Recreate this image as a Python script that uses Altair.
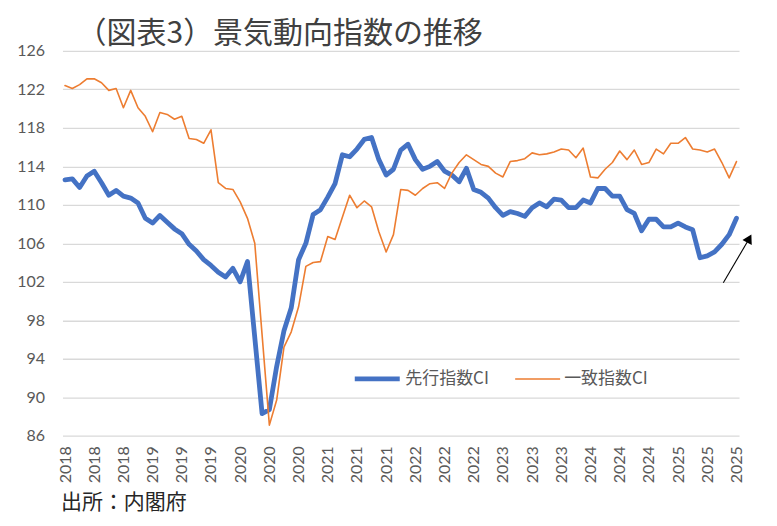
import json
import altair as alt
import pandas as pd

# monthly values, Jan 2018 .. Sep 2025
leading = [
    112.6, 112.7, 111.8, 113.0, 113.5, 112.3, 111.0, 111.5, 110.9, 110.7, 110.2, 108.6,
    108.1, 108.9, 108.2, 107.5, 107.0, 105.9, 105.2, 104.3, 103.7, 103.0, 102.5, 103.4,
    102.0, 104.1, 96.2, 88.3, 88.7, 93.2, 96.9, 99.3, 104.3, 106.0, 109.0, 109.5,
    110.8, 112.2, 115.2, 115.0, 115.8, 116.8, 117.0, 114.7, 113.1, 113.7, 115.7, 116.3,
    114.7, 113.7, 114.0, 114.5, 113.5, 113.1, 112.4, 113.8, 111.6, 111.3, 110.7, 109.7,
    108.9, 109.3, 109.1, 108.8, 109.7, 110.2, 109.8, 110.6, 110.5, 109.7, 109.7, 110.5,
    110.2, 111.7, 111.7, 110.9, 110.9, 109.5, 109.1, 107.3, 108.5, 108.5, 107.7, 107.7,
    108.1, 107.7, 107.4, 104.5, 104.7, 105.1, 105.9, 106.9, 108.6,
]
coincident = [
    122.4, 122.1, 122.5, 123.1, 123.1, 122.7, 121.9, 122.1, 120.1, 121.9, 120.1, 119.2,
    117.6, 119.6, 119.4, 118.9, 119.2, 116.9, 116.8, 116.4, 117.8, 112.3, 111.7, 111.6,
    110.3, 108.6, 106.0, 96.5, 87.1, 89.7, 95.2, 96.8, 99.4, 103.6, 104.0, 104.1,
    106.7, 106.4, 108.7, 111.0, 109.7, 110.4, 109.8, 107.2, 105.1, 106.9, 111.6, 111.5,
    111.0, 111.7, 112.2, 112.3, 111.7, 113.3, 114.4, 115.2, 114.7, 114.2, 114.0, 113.3,
    112.9, 114.5, 114.6, 114.8, 115.4, 115.2, 115.3, 115.5, 115.8, 115.7, 114.9, 115.9,
    112.9, 112.8, 113.7, 114.4, 115.6, 114.7, 115.7, 114.2, 114.4, 115.8, 115.3, 116.4,
    116.4, 117.0, 115.8, 115.7, 115.5, 115.8, 114.4, 112.8, 114.5,
]
series_names = ["先行指数CI", "一致指数CI"]
series_colors = ["#4472C4", "#ED7D31"]
tick_labels = [
    "2018", "2018", "2018", "2019", "2019", "2019", "2020", "2020",
    "2020", "2021", "2021", "2021", "2022", "2022", "2022", "2023",
    "2023", "2023", "2024", "2024", "2024", "2025", "2025", "2025",
]
y_ticks = [86, 90, 94, 98, 102, 106, 110, 114, 118, 122, 126]

# arrow annotation (month index, index value)
arrow_line = {"t": [90.2, 93.6], "v": [101.9, 106.3]}
arrow_head = {"t": [93.75], "v": [106.5]}

JP = "Noto Sans CJK JP"
NUM = "Lato"

months = list(range(len(leading)))
df = pd.concat([
    pd.DataFrame({"t": months, "value": leading, "series": series_names[0]}),
    pd.DataFrame({"t": months, "value": coincident, "series": series_names[1]}),
])

x_scale = alt.Scale(domain=[-0.35, 92.35], nice=False, zero=False)
y_scale = alt.Scale(domain=[86, 126], nice=False, zero=False)

legend = alt.Legend(
    title=None, orient="none", legendX=290, legendY=303, direction="horizontal",
    symbolType="stroke", symbolSize=2025, labelFont=JP, labelFontSize=17,
    labelColor="#595959", labelOffset=3, columnPadding=22, padding=0,
)

base = alt.Chart(df).mark_line(strokeJoin="round", strokeCap="round").encode(
    x=alt.X("t:Q", scale=x_scale, axis=alt.Axis(
        values=list(range(0, 93, 4)), tickCount=40,
        labelExpr=json.dumps(tick_labels) + "[datum.value / 4]",
        labelAngle=270, labelFont=NUM, labelFontSize=16, labelColor="#595959",
        labelPadding=10, labelOverlap=False, grid=False, domain=False, ticks=False,
        title="出所：内閣府", titleFont=JP, titleFontSize=21, titleFontWeight="normal",
        titleColor="#262626", titleX=-2, titleY=67, titleAlign="left",
        titleBaseline="middle")),
    y=alt.Y("value:Q", scale=y_scale, axis=alt.Axis(
        values=y_ticks, tickCount=20, labelFont=NUM, labelFontSize=16, labelColor="#595959",
        labelPadding=18, labelOverlap=False, domain=False, ticks=False, gridColor="#D9D9D9",
        gridWidth=1.3, title=None)),
    color=alt.Color("series:N", scale=alt.Scale(domain=series_names, range=series_colors),
                    legend=legend, sort=series_names),
    strokeWidth=alt.StrokeWidth("series:N", scale=alt.Scale(domain=series_names, range=[4.8, 1.6]),
                                legend=legend, sort=series_names),
)

blue = base.transform_filter(alt.datum.series == series_names[0])
orange = base.transform_filter(alt.datum.series == series_names[1])

arrow = alt.Chart(pd.DataFrame(arrow_line)).mark_line(color="black", strokeWidth=1.1).encode(
    x=alt.X("t:Q", scale=x_scale), y=alt.Y("v:Q", scale=y_scale))
head = alt.Chart(pd.DataFrame(arrow_head)).mark_point(
    shape="triangle-up", filled=True, color="black", size=110, angle=28, opacity=1).encode(
    x=alt.X("t:Q", scale=x_scale), y=alt.Y("v:Q", scale=y_scale))

chart = alt.layer(blue, orange, arrow, head).properties(
    width=677, height=385,
    title=alt.TitleParams("（図表3）景気動向指数の推移", anchor="start", font=JP, fontSize=30,
                          fontWeight="normal", color="#404040", dx=60, dy=46, offset=16,
                          baseline="alphabetic"),
    autosize=alt.AutoSizeParams(type="none"),
    padding={"left": 54.5, "top": 42.8, "right": 30, "bottom": 80},
).configure_view(strokeWidth=0)

chart.save("out.html", embed_options={"renderer": "svg", "actions": False})
